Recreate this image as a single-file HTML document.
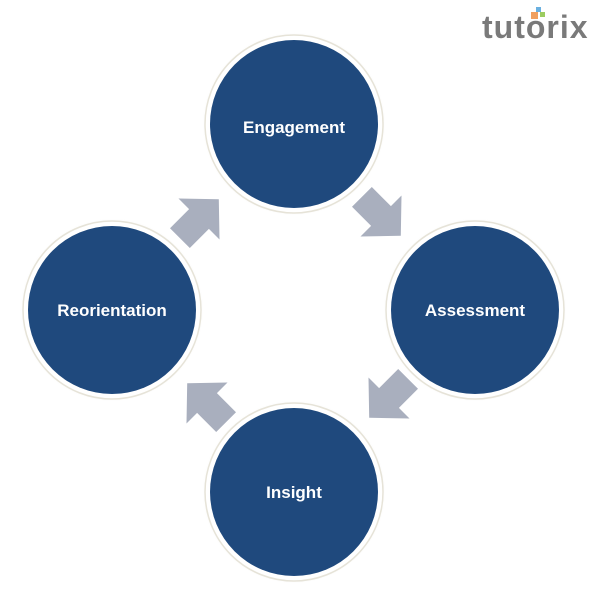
<!DOCTYPE html>
<html><head><style>
body{margin:0;background:#fff;width:600px;height:600px;overflow:hidden;}
</style></head><body>
<svg width="600" height="600" xmlns="http://www.w3.org/2000/svg">
<defs>
<radialGradient id="sh"><stop offset="0.9" stop-color="#d8d6cc"/><stop offset="1" stop-color="#fff" stop-opacity="0"/></radialGradient>
<polygon id="ar" points="-27,-14 0,-14 0,-29 28,0 0,29 0,14 -27,14" fill="#a9afbe"/>
</defs>
<g font-family="Liberation Sans, sans-serif" font-weight="bold" font-size="17" fill="#fff" text-anchor="middle">
<g>
<circle cx="294" cy="124" r="92" fill="url(#sh)"/>
<circle cx="294" cy="124" r="89" fill="#fff" stroke="#e6e3d8" stroke-width="1.5"/>
<circle cx="294" cy="124" r="84" fill="#1f497d"/>
<text x="294" y="133">Engagement</text>
</g>
<g>
<circle cx="475" cy="310" r="92" fill="url(#sh)"/>
<circle cx="475" cy="310" r="89" fill="#fff" stroke="#e6e3d8" stroke-width="1.5"/>
<circle cx="475" cy="310" r="84" fill="#1f497d"/>
<text x="475" y="316">Assessment</text>
</g>
<g>
<circle cx="112" cy="310" r="92" fill="url(#sh)"/>
<circle cx="112" cy="310" r="89" fill="#fff" stroke="#e6e3d8" stroke-width="1.5"/>
<circle cx="112" cy="310" r="84" fill="#1f497d"/>
<text x="112" y="316">Reorientation</text>
</g>
<g>
<circle cx="294" cy="492" r="92" fill="url(#sh)"/>
<circle cx="294" cy="492" r="89" fill="#fff" stroke="#e6e3d8" stroke-width="1.5"/>
<circle cx="294" cy="492" r="84" fill="#1f497d"/>
<text x="294" y="498">Insight</text>
</g>
</g>
<use href="#ar" transform="translate(381,216) rotate(45)"/>
<use href="#ar" transform="translate(389,398) rotate(135)"/>
<use href="#ar" transform="translate(207,403) rotate(-135)"/>
<use href="#ar" transform="translate(199,219) rotate(-45)"/>
<rect x="536" y="7" width="5" height="5" fill="#6ab0e0"/>
<rect x="531" y="12" width="7" height="7" fill="#f0a060"/>
<rect x="540" y="12" width="5" height="5" fill="#9ccc60"/>
<text x="482" y="38" font-family="Liberation Sans, sans-serif" font-weight="bold" font-size="32" letter-spacing="1" fill="#7a7a7a">tutorix</text>
</svg>
</body></html>
